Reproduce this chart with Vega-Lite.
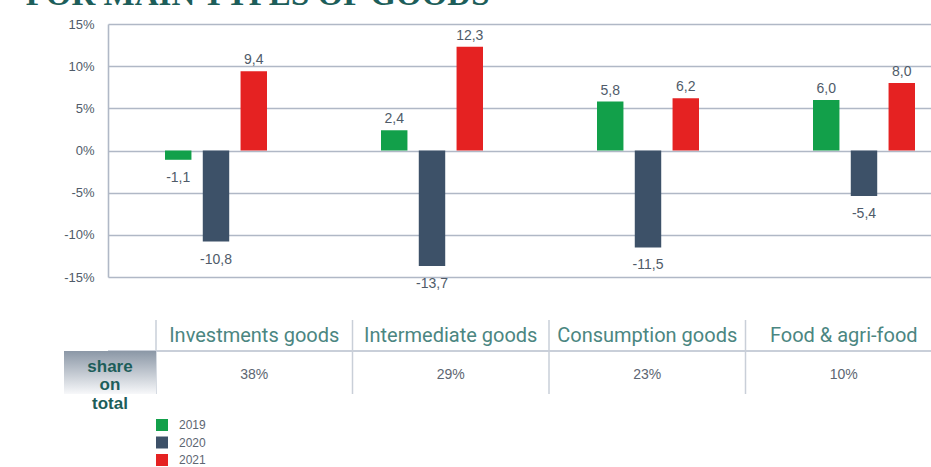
{
  "$schema": "https://vega.github.io/schema/vega-lite/v6.json",
  "background": "white",
  "padding": {"left": 25, "top": -21, "right": 0, "bottom": 0},
  "title": {"text": "FOR MAIN TYPES OF GOODS", "anchor": "start", "frame": "bounds", "font": "Liberation Serif", "fontSize": 33, "fontWeight": "bold", "color": "#1d5e5a", "offset": 6, "dx": -38},
  "config": {
    "view": {"stroke": null},
    "font": "Liberation Sans",
    "locale": {"number": {"decimal": ",", "thousands": ".", "grouping": [3], "currency": ["", " €"], "minus": "-"}}
  },
  "datasets": {
    "bars": [
      {"category": "Investments goods", "year": "2019", "value": -1.1},
      {"category": "Investments goods", "year": "2020", "value": -10.8},
      {"category": "Investments goods", "year": "2021", "value": 9.4},
      {"category": "Intermediate goods", "year": "2019", "value": 2.4},
      {"category": "Intermediate goods", "year": "2020", "value": -13.7},
      {"category": "Intermediate goods", "year": "2021", "value": 12.3},
      {"category": "Consumption goods", "year": "2019", "value": 5.8},
      {"category": "Consumption goods", "year": "2020", "value": -11.5},
      {"category": "Consumption goods", "year": "2021", "value": 6.2},
      {"category": "Food & agri-food", "year": "2019", "value": 6.0},
      {"category": "Food & agri-food", "year": "2020", "value": -5.4},
      {"category": "Food & agri-food", "year": "2021", "value": 8.0}
    ],
    "table": [
      {"category": "Investments goods", "share": 0.38},
      {"category": "Intermediate goods", "share": 0.29},
      {"category": "Consumption goods", "share": 0.23},
      {"category": "Food & agri-food", "share": 0.10}
    ]
  },
  "spacing": 27,
  "vconcat": [
    {
      "width": 824,
      "height": 253,
      "data": {"name": "bars"},
      "encoding": {
        "x": {"field": "category", "type": "nominal", "sort": null, "axis": null,
              "scale": {"domain": ["Investments goods", "Intermediate goods", "Consumption goods", "Food & agri-food"], "range": [0, 864], "paddingInner": 0, "paddingOuter": 0}},
        "xOffset": {"field": "year", "type": "nominal", "scale": {"domain": ["2019", "2020", "2021"], "range": [57, 159], "paddingInner": 0.3, "paddingOuter": 0}},
        "y": {"field": "value", "type": "quantitative",
              "scale": {"domain": [-15, 15], "nice": false, "zero": false},
              "axis": {"title": null, "values": [-15, -10, -5, 0, 5, 10, 15], "labelExpr": "datum.value + '%'", "ticks": false, "labelPadding": 14, "labelFontSize": 13, "labelColor": "#4f5b69", "domainColor": "#b0b8c6", "domainWidth": 1.6, "gridColor": "#b0b8c6", "gridWidth": 1.6, "gridOpacity": 1}}
      },
      "layer": [
        {
          "mark": {"type": "bar"},
          "encoding": {
            "color": {"field": "year", "type": "nominal",
                      "scale": {"domain": ["2019", "2020", "2021"], "range": ["#12a04a", "#3d5168", "#e52222"]},
                      "legend": {"title": null, "orient": "none", "legendX": 48, "legendY": 395, "direction": "vertical", "symbolType": "square", "symbolSize": 144, "symbolStrokeWidth": 0, "labelFontSize": 12, "labelColor": "#5d6672", "labelOffset": 11, "rowPadding": 5.5, "padding": 0}}
          }
        },
        {
          "transform": [{"filter": "datum.value >= 0"}],
          "mark": {"type": "text", "baseline": "alphabetic", "dy": -7, "fontSize": 14, "color": "#4f5b69"},
          "encoding": {"text": {"field": "value", "type": "quantitative", "format": ".1f"}}
        },
        {
          "transform": [{"filter": "datum.value < 0"}],
          "mark": {"type": "text", "baseline": "top", "dy": 11, "fontSize": 14, "color": "#4f5b69"},
          "encoding": {"text": {"field": "value", "type": "quantitative", "format": ".1f"}}
        }
      ]
    },
    {
      "width": 824,
      "height": 74,
      "resolve": {"scale": {"x": "independent", "y": "independent"}},
      "layer": [
        {
          "data": {"name": "table"},
          "layer": [
            {
              "mark": {"type": "rule", "color": "#c9cfd8", "strokeWidth": 1.5},
              "encoding": {
                "y": {"datum": "header", "type": "nominal", "bandPosition": 1, "axis": null,
                      "scale": {"domain": ["header", "share"], "paddingInner": 0.205, "paddingOuter": 0.051, "align": 0}}
              }
            },
            {
              "mark": {"type": "rule", "color": "#c9cfd8", "strokeWidth": 1.5},
              "encoding": {
                "x": {"field": "category", "type": "nominal", "sort": null, "bandPosition": 0, "axis": null,
                      "scale": {"domain": ["Investments goods", "Intermediate goods", "Consumption goods", "Food & agri-food"], "range": [48, 834], "paddingInner": 0, "paddingOuter": 0}}
              }
            },
            {
              "mark": {"type": "text", "font": "Roboto", "fontSize": 20, "color": "#4b8681"},
              "encoding": {
                "x": {"field": "category", "type": "nominal", "sort": null, "axis": null,
                      "scale": {"domain": ["Investments goods", "Intermediate goods", "Consumption goods", "Food & agri-food"], "range": [48, 834], "paddingInner": 0, "paddingOuter": 0}},
                "y": {"datum": "header", "type": "nominal", "axis": null,
                      "scale": {"domain": ["header", "share"], "paddingInner": 0.205, "paddingOuter": 0.051, "align": 0}},
                "text": {"field": "category", "type": "nominal"}
              }
            },
            {
              "mark": {"type": "text", "fontSize": 14, "color": "#5d6672"},
              "encoding": {
                "x": {"field": "category", "type": "nominal", "sort": null, "axis": null,
                      "scale": {"domain": ["Investments goods", "Intermediate goods", "Consumption goods", "Food & agri-food"], "range": [48, 834], "paddingInner": 0, "paddingOuter": 0}},
                "y": {"datum": "share", "type": "nominal", "axis": null,
                      "scale": {"domain": ["header", "share"], "paddingInner": 0.205, "paddingOuter": 0.051, "align": 0}},
                "text": {"field": "share", "type": "quantitative", "format": ".0%"}
              }
            }
          ]
        },
        {
          "data": {"values": [{"label": "share on total"}]},
          "encoding": {
            "x": {"field": "label", "type": "nominal", "axis": null, "scale": {"range": [-44, 48], "paddingInner": 0, "paddingOuter": 0}},
            "y": {"field": "label", "type": "nominal", "axis": null, "scale": {"paddingInner": 0, "paddingOuter": 0.36, "align": 1}}
          },
          "layer": [
            {
              "mark": {"type": "rect", "fill": {"gradient": "linear", "x1": 0, "y1": 0, "x2": 0, "y2": 1, "stops": [{"offset": 0, "color": "#8b97a6"}, {"offset": 1, "color": "#f7f8fa"}]}}
            },
            {
              "mark": {"type": "text", "lineBreak": " ", "fontSize": 17, "fontWeight": "bold", "color": "#1d5e5a", "dy": -5.5, "lineHeight": 18.5},
              "encoding": {"text": {"field": "label", "type": "nominal"}}
            }
          ]
        }
      ]
    }
  ]
}
